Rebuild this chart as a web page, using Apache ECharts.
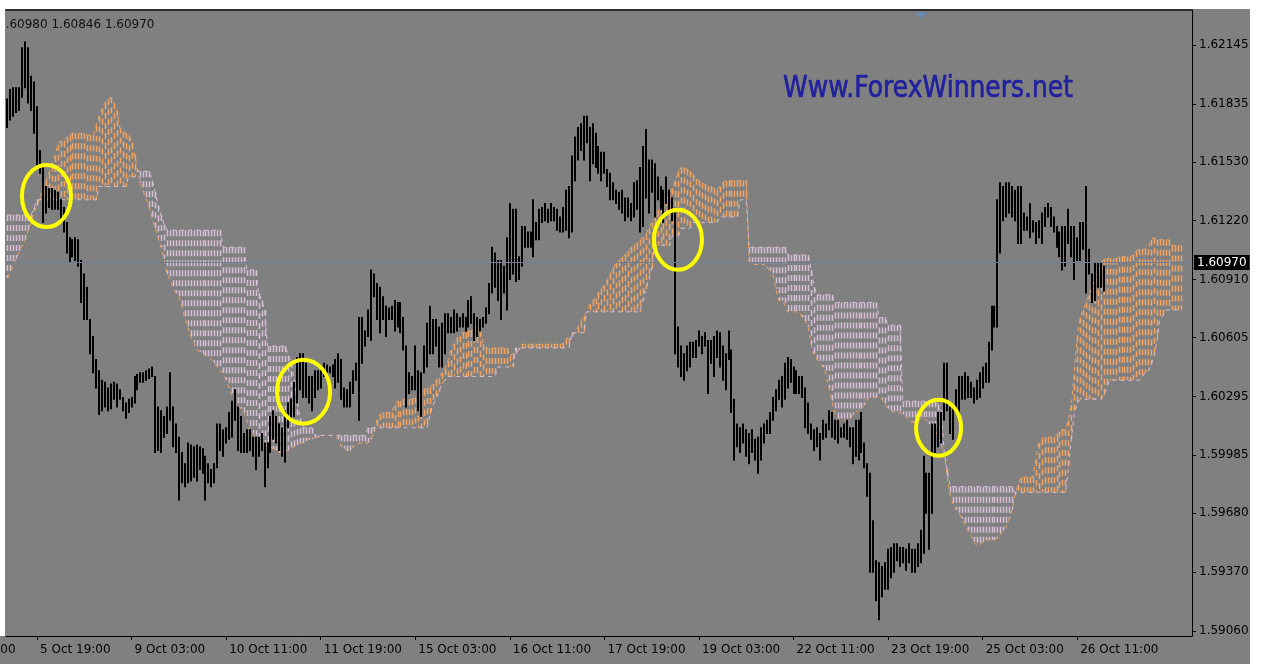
<!DOCTYPE html>
<html>
<head>
<meta charset="utf-8">
<script src="https://cdn.jsdelivr.net/npm/echarts@6/dist/echarts.min.js"></script>
<style>
html, body { margin: 0; padding: 0; background: #fff; }
#chart { width: 1267px; height: 664px; }
</style>
</head>
<body>
<div id="chart"></div>
<script>
// H1 bars, high / low per bar
var barHigh = [
  1.6186,1.6191,1.6192,1.6192,1.6192,1.6213,1.6216,1.6213,1.6198,1.6195,
  1.6182,1.6159,1.6150,1.6140,1.6139,1.6139,1.6138,1.6137,1.6133,1.6129,
  1.6121,1.6113,1.6112,1.6113,1.6112,1.6101,1.6094,1.6087,1.6070,1.6061,
  1.6049,1.6043,1.6038,1.6037,1.6034,1.6036,1.6037,1.6036,1.6033,1.6029,
  1.6026,1.6028,1.6029,1.6040,1.6041,1.6042,1.6042,1.6043,1.6044,1.6045,
  1.6040,1.6024,1.6022,1.6019,1.6024,1.6042,1.6024,1.6015,1.6008,1.6000,
  1.5994,1.6005,1.6004,1.6003,1.6004,1.6003,1.6002,1.5998,1.5994,1.5991,
  1.5994,1.6015,1.6015,1.6012,1.6013,1.6021,1.6027,1.6033,1.6024,1.6019,
  1.6010,1.6012,1.6012,1.6008,1.6008,1.6008,1.6010,1.6005,1.6005,1.6019,
  1.6022,1.6019,1.6015,1.6013,1.6022,1.6026,1.6028,1.6037,1.6050,1.6052,
  1.6052,1.6047,1.6040,1.6040,1.6043,1.6043,1.6045,1.6047,1.6046,1.6045,
  1.6046,1.6049,1.6052,1.6049,1.6034,1.6033,1.6037,1.6043,1.6047,1.6071,
  1.6071,1.6064,1.6075,1.6096,1.6094,1.6089,1.6087,1.6082,1.6077,1.6076,
  1.6077,1.6080,1.6079,1.6079,1.6071,1.6056,1.6042,1.6040,1.6056,1.6043,
  1.6042,1.6056,1.6068,1.6077,1.6070,1.6070,1.6066,1.6068,1.6073,1.6073,
  1.6071,1.6075,1.6073,1.6071,1.6073,1.6071,1.6080,1.6082,1.6073,1.6071,
  1.6070,1.6071,1.6076,1.6089,1.6108,1.6105,1.6101,1.6101,1.6098,1.6113,
  1.6131,1.6128,1.6128,1.6103,1.6119,1.6119,1.6116,1.6116,1.6133,1.6121,
  1.6128,1.6129,1.6131,1.6128,1.6131,1.6129,1.6128,1.6124,1.6129,1.6138,
  1.6140,1.6156,1.6166,1.6171,1.6173,1.6177,1.6177,1.6171,1.6173,1.6168,
  1.6161,1.6158,1.6158,1.6149,1.6147,1.6142,1.6138,1.6137,1.6138,1.6134,
  1.6134,1.6131,1.6142,1.6143,1.6150,1.6161,1.6170,1.6154,1.6154,1.6152,
  1.6145,1.6140,1.6138,1.6145,1.6138,1.6134,1.6126,1.6066,1.6056,1.6052,
  1.6056,1.6058,1.6058,1.6059,1.6064,1.6061,1.6063,1.6059,1.6059,1.6061,
  1.6064,1.6063,1.6056,1.6052,1.6064,1.6054,1.6028,1.6015,1.6013,1.6015,
  1.6012,1.6010,1.6012,1.6007,1.6008,1.6013,1.6015,1.6017,1.6021,1.6029,
  1.6033,1.6038,1.6040,1.6047,1.6050,1.6049,1.6045,1.6043,1.6040,1.6040,
  1.6034,1.6026,1.6015,1.6012,1.6013,1.6010,1.6017,1.6015,1.6022,1.6021,
  1.6017,1.6017,1.6013,1.6015,1.6017,1.6013,1.6013,1.6017,1.6017,1.6021,
  1.6005,1.5994,1.5989,1.5964,1.5943,1.5942,1.5940,1.5942,1.5949,1.5950,
  1.5952,1.5952,1.5950,1.5950,1.5949,1.5952,1.5949,1.5949,1.5952,1.5959,
  1.5998,1.5989,1.5989,1.6015,1.6015,1.6021,1.6021,1.6047,1.6047,1.6024,
  1.6024,1.6033,1.6040,1.6040,1.6042,1.6040,1.6037,1.6034,1.6038,1.6042,
  1.6045,1.6047,1.6058,1.6077,1.6077,1.6133,1.6142,1.6140,1.6142,1.6142,
  1.6140,1.6138,1.6140,1.6140,1.6126,1.6124,1.6131,1.6122,1.6121,1.6122,
  1.6126,1.6129,1.6131,1.6129,1.6124,1.6119,1.6116,1.6119,1.6119,1.6128,
  1.6119,1.6119,1.6113,1.6121,1.6121,1.6140,1.6107,1.6094,1.6100,1.6100,
  1.6100,1.6098
];
var barLow = [
  1.6171,1.6175,1.6177,1.6179,1.6180,1.6187,1.6192,1.6184,1.6180,1.6168,
  1.6150,1.6147,1.6121,1.6126,1.6129,1.6128,1.6128,1.6128,1.6122,1.6116,
  1.6105,1.6100,1.6103,1.6101,1.6098,1.6079,1.6070,1.6070,1.6052,1.6042,
  1.6034,1.6020,1.6022,1.6024,1.6022,1.6023,1.6028,1.6024,1.6028,1.6022,
  1.6018,1.6021,1.6024,1.6026,1.6033,1.6037,1.6037,1.6038,1.6039,1.6040,
  1.6000,1.6001,1.6000,1.6008,1.6010,1.6017,1.6003,1.6000,1.5975,1.5984,
  1.5982,1.5984,1.5985,1.5987,1.5985,1.5991,1.5989,1.5975,1.5984,1.5982,
  1.5984,1.5992,1.6001,1.5998,1.6005,1.6007,1.6008,1.6017,1.6001,1.6000,
  1.6000,1.6000,1.6001,1.5998,1.5991,1.5998,1.6001,1.5982,1.5992,1.6000,
  1.6007,1.6005,1.6001,1.5998,1.5995,1.6013,1.6017,1.6019,1.6026,1.6033,
  1.6029,1.6029,1.6026,1.6022,1.6029,1.6033,1.6034,1.6040,1.6040,1.6042,
  1.6040,1.6034,1.6037,1.6028,1.6024,1.6024,1.6024,1.6031,1.6038,1.6017,
  1.6047,1.6056,1.6061,1.6059,1.6082,1.6070,1.6063,1.6070,1.6061,1.6070,
  1.6070,1.6064,1.6066,1.6063,1.6054,1.6024,1.6031,1.6033,1.6033,1.6022,
  1.6019,1.6042,1.6045,1.6052,1.6052,1.6056,1.6045,1.6045,1.6052,1.6063,
  1.6063,1.6063,1.6064,1.6066,1.6066,1.6064,1.6066,1.6068,1.6059,1.6061,
  1.6064,1.6066,1.6068,1.6073,1.6084,1.6087,1.6080,1.6070,1.6084,1.6075,
  1.6091,1.6094,1.6090,1.6091,1.6098,1.6108,1.6108,1.6108,1.6103,1.6112,
  1.6112,1.6121,1.6122,1.6121,1.6122,1.6122,1.6117,1.6116,1.6116,1.6117,
  1.6113,1.6116,1.6143,1.6154,1.6159,1.6154,1.6163,1.6143,1.6152,1.6150,
  1.6147,1.6143,1.6147,1.6140,1.6133,1.6133,1.6131,1.6128,1.6126,1.6122,
  1.6124,1.6122,1.6124,1.6128,1.6116,1.6119,1.6134,1.6126,1.6137,1.6124,
  1.6133,1.6128,1.6121,1.6131,1.6126,1.6122,1.6052,1.6045,1.6040,1.6038,
  1.6043,1.6045,1.6050,1.6050,1.6056,1.6052,1.6056,1.6031,1.6047,1.6040,
  1.6050,1.6045,1.6038,1.6033,1.6049,1.6021,1.5996,1.6003,1.6000,1.6005,
  1.5998,1.5994,1.6000,1.5996,1.5989,1.5996,1.6005,1.6010,1.6010,1.6017,
  1.6022,1.6028,1.6024,1.6028,1.6034,1.6037,1.6031,1.6031,1.6031,1.6029,
  1.6013,1.6010,1.6007,1.6001,1.6003,1.5996,1.6007,1.6008,1.6012,1.6008,
  1.6007,1.6005,1.6008,1.6008,1.6007,1.6003,1.5994,1.5998,1.5996,1.6000,
  1.5992,1.5977,1.5937,1.5937,1.5922,1.5912,1.5924,1.5928,1.5928,1.5934,
  1.5937,1.5943,1.5940,1.5942,1.5938,1.5942,1.5937,1.5937,1.5940,1.5942,
  1.5947,1.5968,1.5949,1.5968,1.6000,1.6003,1.6005,1.6017,1.6022,1.6010,
  1.6007,1.6021,1.6021,1.6028,1.6028,1.6029,1.6029,1.6026,1.6028,1.6029,
  1.6034,1.6037,1.6037,1.6054,1.6066,1.6066,1.6105,1.6122,1.6124,1.6126,
  1.6124,1.6122,1.6110,1.6110,1.6117,1.6117,1.6113,1.6116,1.6110,1.6113,
  1.6110,1.6119,1.6124,1.6119,1.6116,1.6108,1.6103,1.6096,1.6098,1.6110,
  1.6103,1.6091,1.6101,1.6101,1.6107,1.6084,1.6094,1.6079,1.6080,1.6087,
  1.6087,1.6085
];
// Ichimoku Senkou Span A / Span B, shifted 26 bars ahead
var spanA = [
  1.6092,1.6095,1.6099,1.6102,1.6106,1.6109,1.6112,1.6117,1.6121,1.6127,
  1.6130,1.6134,1.6139,1.6143,1.6147,1.6151,1.6156,1.6162,1.6164,1.6164,
  1.6166,1.6167,1.6168,1.6168,1.6168,1.6168,1.6168,1.6167,1.6167,1.6167,
  1.6172,1.6177,1.6181,1.6184,1.6186,1.6187,1.6184,1.6180,1.6171,1.6169,
  1.6168,1.6167,1.6163,1.6157,1.6149,1.6142,1.6137,1.6133,1.6129,1.6123,
  1.6118,1.6113,1.6108,1.6102,1.6094,1.6091,1.6087,1.6084,1.6082,1.6077,
  1.6071,1.6066,1.6061,1.6058,1.6054,1.6053,1.6052,1.6051,1.6050,1.6049,
  1.6047,1.6045,1.6043,1.6042,1.6038,1.6034,1.6030,1.6028,1.6025,1.6023,
  1.6021,1.6017,1.6012,1.6010,1.6008,1.6006,1.6005,1.6004,1.6003,1.6003,
  1.6002,1.6001,1.6000,1.6000,1.6001,1.6001,1.6002,1.6003,1.6004,1.6005,
  1.6005,1.6006,1.6007,1.6007,1.6008,1.6008,1.6009,1.6009,1.6009,1.6009,
  1.6009,1.6009,1.6007,1.6003,1.6002,1.6001,1.6001,1.6003,1.6004,1.6005,
  1.6005,1.6005,1.6005,1.6007,1.6011,1.6017,1.6020,1.6021,1.6021,1.6021,
  1.6021,1.6025,1.6027,1.6027,1.6028,1.6028,1.6028,1.6028,1.6029,1.6030,
  1.6031,1.6033,1.6034,1.6034,1.6036,1.6038,1.6039,1.6042,1.6044,1.6048,
  1.6054,1.6057,1.6060,1.6061,1.6063,1.6063,1.6064,1.6064,1.6066,1.6066,
  1.6064,1.6057,1.6055,1.6055,1.6055,1.6055,1.6055,1.6055,1.6055,1.6055,
  1.6051,1.6052,1.6052,1.6054,1.6057,1.6057,1.6057,1.6057,1.6057,1.6057,
  1.6057,1.6057,1.6057,1.6057,1.6057,1.6057,1.6057,1.6057,1.6057,1.6060,
  1.6060,1.6061,1.6063,1.6066,1.6069,1.6072,1.6074,1.6078,1.6080,1.6081,
  1.6084,1.6086,1.6088,1.6091,1.6094,1.6097,1.6100,1.6101,1.6103,1.6104,
  1.6106,1.6108,1.6109,1.6110,1.6112,1.6113,1.6115,1.6118,1.6121,1.6123,
  1.6127,1.6129,1.6131,1.6133,1.6136,1.6139,1.6143,1.6148,1.6150,1.6150,
  1.6149,1.6148,1.6146,1.6144,1.6143,1.6142,1.6141,1.6140,1.6140,1.6139,
  1.6138,1.6140,1.6142,1.6143,1.6143,1.6143,1.6143,1.6143,1.6143,1.6143,
  1.6143,1.6100,1.6099,1.6099,1.6099,1.6099,1.6099,1.6097,1.6096,1.6094,
  1.6086,1.6080,1.6080,1.6078,1.6074,1.6074,1.6074,1.6074,1.6074,1.6071,
  1.6069,1.6066,1.6057,1.6051,1.6049,1.6047,1.6045,1.6041,1.6034,1.6027,
  1.6021,1.6018,1.6017,1.6017,1.6017,1.6017,1.6020,1.6021,1.6022,1.6023,
  1.6025,1.6028,1.6029,1.6029,1.6029,1.6029,1.6028,1.6025,1.6023,1.6022,
  1.6021,1.6021,1.6021,1.6020,1.6019,1.6017,1.6016,1.6016,1.6016,1.6018,
  1.6018,1.6017,1.6015,1.6014,1.6011,1.6008,1.6004,1.5999,1.5988,1.5977,
  1.5973,1.5970,1.5968,1.5965,1.5962,1.5959,1.5957,1.5953,1.5951,1.5951,
  1.5953,1.5954,1.5954,1.5954,1.5954,1.5955,1.5957,1.5959,1.5961,1.5965,
  1.5970,1.5978,1.5983,1.5987,1.5987,1.5987,1.5987,1.5987,1.5996,1.6005,
  1.6007,1.6008,1.6008,1.6008,1.6008,1.6009,1.6011,1.6012,1.6012,1.6017,
  1.6025,1.6041,1.6061,1.6071,1.6075,1.6079,1.6083,1.6087,1.6092,1.6096,
  1.6099,1.6102,1.6102,1.6102,1.6102,1.6102,1.6103,1.6103,1.6103,1.6103,
  1.6103,1.6104,1.6106,1.6107,1.6107,1.6107,1.6107,1.6112,1.6113,1.6112,
  1.6112,1.6112,1.6112,1.6112,1.6109,1.6109,1.6109,1.6109
];
var spanB = [
  1.6125,1.6125,1.6125,1.6125,1.6125,1.6125,1.6125,1.6125,1.6125,1.6129,
  1.6133,1.6133,1.6133,1.6133,1.6133,1.6133,1.6133,1.6133,1.6133,1.6133,
  1.6133,1.6133,1.6133,1.6133,1.6133,1.6133,1.6133,1.6133,1.6133,1.6133,
  1.6133,1.6140,1.6140,1.6140,1.6140,1.6140,1.6140,1.6140,1.6140,1.6140,
  1.6140,1.6145,1.6145,1.6145,1.6148,1.6148,1.6148,1.6148,1.6148,1.6143,
  1.6137,1.6130,1.6125,1.6120,1.6117,1.6117,1.6117,1.6117,1.6117,1.6117,
  1.6117,1.6117,1.6117,1.6117,1.6117,1.6117,1.6117,1.6117,1.6117,1.6117,
  1.6117,1.6117,1.6117,1.6108,1.6108,1.6108,1.6108,1.6108,1.6108,1.6108,
  1.6108,1.6096,1.6096,1.6096,1.6096,1.6084,1.6080,1.6075,1.6056,1.6056,
  1.6056,1.6056,1.6056,1.6056,1.6056,1.6051,1.6048,1.6038,1.6028,1.6018,
  1.6013,1.6013,1.6013,1.6013,1.6009,1.6009,1.6009,1.6009,1.6009,1.6009,
  1.6009,1.6009,1.6009,1.6009,1.6009,1.6009,1.6009,1.6009,1.6009,1.6009,
  1.6009,1.6009,1.6013,1.6013,1.6013,1.6013,1.6013,1.6013,1.6013,1.6013,
  1.6013,1.6013,1.6013,1.6013,1.6013,1.6013,1.6013,1.6013,1.6013,1.6013,
  1.6013,1.6013,1.6013,1.6020,1.6025,1.6028,1.6032,1.6036,1.6038,1.6040,
  1.6040,1.6040,1.6040,1.6040,1.6040,1.6040,1.6040,1.6040,1.6040,1.6040,
  1.6040,1.6040,1.6040,1.6040,1.6040,1.6040,1.6045,1.6045,1.6045,1.6045,
  1.6045,1.6045,1.6055,1.6055,1.6055,1.6055,1.6055,1.6055,1.6055,1.6055,
  1.6055,1.6055,1.6055,1.6055,1.6055,1.6055,1.6055,1.6055,1.6055,1.6055,
  1.6055,1.6063,1.6063,1.6063,1.6063,1.6063,1.6074,1.6074,1.6074,1.6074,
  1.6074,1.6074,1.6074,1.6074,1.6074,1.6074,1.6074,1.6074,1.6074,1.6074,
  1.6074,1.6074,1.6074,1.6074,1.6074,1.6080,1.6086,1.6091,1.6097,1.6109,
  1.6109,1.6109,1.6109,1.6109,1.6109,1.6114,1.6114,1.6114,1.6118,1.6118,
  1.6118,1.6118,1.6121,1.6121,1.6121,1.6121,1.6121,1.6121,1.6121,1.6121,
  1.6121,1.6124,1.6124,1.6124,1.6124,1.6124,1.6124,1.6124,1.6133,1.6133,
  1.6133,1.6108,1.6108,1.6108,1.6108,1.6108,1.6108,1.6108,1.6108,1.6108,
  1.6108,1.6108,1.6108,1.6108,1.6104,1.6104,1.6104,1.6104,1.6104,1.6104,
  1.6104,1.6104,1.6096,1.6087,1.6083,1.6083,1.6083,1.6083,1.6083,1.6083,
  1.6079,1.6079,1.6079,1.6079,1.6079,1.6079,1.6079,1.6079,1.6079,1.6079,
  1.6079,1.6079,1.6079,1.6079,1.6079,1.6071,1.6071,1.6071,1.6067,1.6067,
  1.6067,1.6067,1.6067,1.6027,1.6027,1.6027,1.6027,1.6027,1.6027,1.6027,
  1.6027,1.6027,1.6027,1.6027,1.6027,1.6025,1.6022,1.6000,1.5991,1.5982,
  1.5982,1.5982,1.5982,1.5982,1.5982,1.5982,1.5982,1.5982,1.5982,1.5982,
  1.5982,1.5982,1.5982,1.5982,1.5982,1.5982,1.5982,1.5982,1.5982,1.5982,
  1.5982,1.5979,1.5979,1.5979,1.5979,1.5979,1.5979,1.5979,1.5979,1.5979,
  1.5979,1.5979,1.5979,1.5979,1.5979,1.5979,1.5979,1.5979,1.5979,1.5991,
  1.6007,1.6020,1.6026,1.6028,1.6028,1.6028,1.6028,1.6028,1.6028,1.6028,
  1.6028,1.6030,1.6034,1.6038,1.6038,1.6038,1.6038,1.6038,1.6038,1.6038,
  1.6038,1.6038,1.6038,1.6038,1.6040,1.6042,1.6043,1.6046,1.6051,1.6059,
  1.6070,1.6072,1.6075,1.6075,1.6075,1.6075,1.6075,1.6075
];
var xLabels = ['5 Oct 19:00', '9 Oct 03:00', '10 Oct 11:00', '11 Oct 19:00', '15 Oct 03:00', '16 Oct 11:00',
  '17 Oct 19:00', '19 Oct 03:00', '22 Oct 11:00', '23 Oct 19:00', '25 Oct 03:00', '26 Oct 11:00'];
var xLabelBars = [10, 42, 74, 106, 138, 170, 202, 234, 266, 298, 330, 362];
var yTicks = [1.62145, 1.61835, 1.61530, 1.61220, 1.60910, 1.60605, 1.60295, 1.59985, 1.59680, 1.59370, 1.59060];
var lastPrice = 1.60970;
var quote = '1.60980 1.60846 1.60970';
// yellow marks (bar index, price)
var circleBars = [13.2, 100.2, 226.9, 315.1];
var circlePrices = [1.6135, 1.6032, 1.6112, 1.6013];

var circleSizes = [[49, 62], [53, 64], [48, 60], [45, 56]];
var FONT = 'DejaVu Sans';

var bars = barHigh.map(function (h, i) { return [i, barLow[i], h]; });
var cloud = spanA.map(function (a, i) { return [i, a, spanB[i]]; });
var marks = circleBars.map(function (b, k) { return [b, circlePrices[k]]; });

function drawBar(params, api) {
  var i = api.value(0);
  var hi = api.coord([i, api.value(2)]);
  var lo = api.coord([i, api.value(1)]);
  var x = Math.round(hi[0]);
  return {
    type: 'line',
    shape: { x1: x, y1: hi[1] - 0.5, x2: x, y2: lo[1] + 0.5 },
    style: { stroke: '#000', lineWidth: 2 }
  };
}

function drawCloud(params, api) {
  var i = api.value(0), a = api.value(1), b = api.value(2);
  if (a === b) return;
  var pa = api.coord([i, a]);
  var pb = api.coord([i, b]);
  var x = Math.round(pa[0]) + 0.5;
  return {
    type: 'line',
    shape: { x1: x, y1: Math.min(pa[1], pb[1]), x2: x, y2: Math.max(pa[1], pb[1]) },
    style: { stroke: a > b ? '#f4a460' : '#d8bfd8', lineWidth: 1.5, lineDash: [6, 4] }
  };
}

function drawCircle(params, api) {
  var c = api.coord([api.value(0), api.value(1)]);
  var s = circleSizes[params.dataIndex];
  return {
    type: 'ellipse',
    shape: { cx: c[0], cy: c[1], rx: s[0] / 2, ry: s[1] / 2 },
    style: { fill: 'none', stroke: '#ffff00', lineWidth: 4 }
  };
}

var chart = echarts.init(document.getElementById('chart'));
chart.setOption({
  animation: false,
  backgroundColor: '#808080',
  grid: { left: 6, top: 10, right: 75, bottom: 28 },
  xAxis: [
    {
      type: 'value', min: -0.5, max: 400.85,
      axisLine: { onZero: false, lineStyle: { color: '#000', width: 1 } },
      axisTick: { customValues: xLabelBars, length: 4, lineStyle: { color: '#000' } },
      axisLabel: {
        customValues: xLabelBars, align: 'left', margin: 8, padding: [0, 0, 0, 3],
        color: '#000', fontFamily: FONT, fontSize: 12,
        formatter: function (v) {
          var k = xLabelBars.indexOf(v);
          return k >= 0 ? xLabels[k] : '';
        }
      },
      splitLine: { show: false }
    },
    {
      type: 'value', position: 'top', min: -0.5, max: 400.85,
      axisLine: { onZero: false, lineStyle: { color: '#111', width: 1.5 } },
      axisTick: { show: false }, axisLabel: { show: false }, splitLine: { show: false }
    }
  ],
  yAxis: {
    type: 'value', position: 'right', min: 1.59034, max: 1.62329,
    axisLine: { show: true, onZero: false, lineStyle: { color: '#000', width: 1 } },
    axisTick: { show: true, customValues: yTicks, length: 4, lineStyle: { color: '#000' } },
    axisLabel: {
      customValues: yTicks, margin: 7, color: '#000', fontFamily: FONT, fontSize: 12,
      formatter: function (v) { return v.toFixed(5); }
    },
    splitLine: { show: false }
  },
  series: [
    {
      type: 'custom', name: 'cloud', data: cloud, renderItem: drawCloud,
      encode: { x: 0, y: [1, 2] }, silent: true, z: 1,
      markLine: {
        silent: true, symbol: ['none', 'none'],
        data: [{ yAxis: lastPrice }],
        lineStyle: { color: '#6c7f96', width: 1, type: 'solid' },
        label: {
          position: 'end', distance: 2, formatter: lastPrice.toFixed(5),
          color: '#fff', backgroundColor: '#000', padding: [2, 3, 1, 3],
          fontFamily: FONT, fontSize: 12
        }
      }
    },
    {
      type: 'line', name: 'Span A', data: spanA.map(function (v, i) { return [i, v]; }),
      symbol: 'none', silent: true, z: 1,
      lineStyle: { color: '#f4a460', width: 1, type: [4, 4] }
    },
    {
      type: 'line', name: 'Span B', data: spanB.map(function (v, i) { return [i, v]; }),
      symbol: 'none', silent: true, z: 1,
      lineStyle: { color: '#d8bfd8', width: 1, type: [4, 4] }
    },
    {
      type: 'custom', name: 'bars', data: bars, renderItem: drawBar,
      encode: { x: 0, y: [1, 2] }, silent: true, z: 3
    },
    {
      type: 'custom', name: 'marks', data: marks, renderItem: drawCircle,
      encode: { x: 0, y: 1 }, silent: true, z: 5
    }
  ],
  graphic: [
    {
      type: 'text', x: 783, y: 75, scaleY: 1.17, z: 50,
      style: {
        text: 'Www.ForexWinners.net', fill: '#2020a0', stroke: '#2020a0', lineWidth: 0.6,
        fontFamily: FONT, fontSize: 25, verticalAlign: 'top'
      }
    },
    {
      type: 'text', x: -2, y: 19, z: 50,
      style: { text: quote, fill: '#101010', fontFamily: FONT, fontSize: 12, verticalAlign: 'top' }
    },
    {
      type: 'text', x: -55, y: 644, z: 50,
      style: { text: '4 Oct 11:00', fill: '#000', fontFamily: FONT, fontSize: 12, verticalAlign: 'top' }
    },
    {
      type: 'polygon', z: 50,
      shape: { points: [[915, 12], [927, 12], [921, 19]] },
      style: { fill: '#6a8ab0' }
    },
    { type: 'rect', z: 100, shape: { x: 0, y: 0, width: 1267, height: 9 }, style: { fill: '#fff' } },
    { type: 'rect', z: 100, shape: { x: 0, y: 0, width: 5, height: 636 }, style: { fill: '#fff' } },
    { type: 'rect', z: 100, shape: { x: 1250, y: 0, width: 17, height: 664 }, style: { fill: '#fff' } }
  ]
});
</script>
</body>
</html>
